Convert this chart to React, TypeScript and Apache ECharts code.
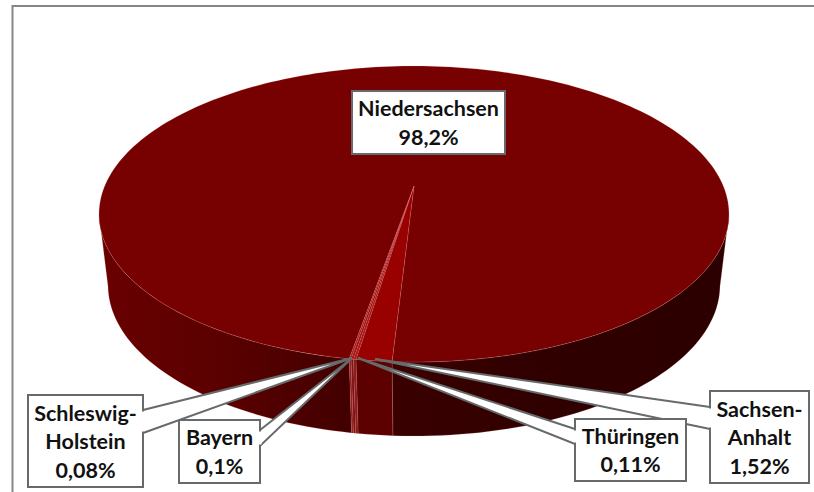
import React, { useEffect, useRef } from "react";
import * as echarts from "echarts";

// Share of each Bundesland, in drawing order (clockwise from the front of the pie).
const states = ["Sachsen-Anhalt", "Thüringen", "Bayern", "Schleswig-Holstein", "Niedersachsen"];
const shares = [1.52, 0.11, 0.1, 0.08, 98.2];
const labelLines = [["Sachsen-", "Anhalt"], ["Thüringen"], ["Bayern"], ["Schleswig-", "Holstein"], ["Niedersachsen"]];
const topColors = ["#990000", "#aa1a1a", "#a31515", "#ad2020", "#770000"];
const wallColors = ["#5c0000", "#8c1c1c", "#7f1414", "#942020", "#770000"];

// Callout boxes: [x, y, w, h], and the tail as the box-side anchors and the tip.
const boxes = [
  [710, 391, 99, 92],
  [575, 419, 111, 62],
  [179, 420, 81, 63],
  [28, 395, 115, 92],
  [352, 91, 153, 63],
];
const tails: (number[][] | null)[] = [
  [[710, 407], [375, 359], [710, 429]],
  [[575, 429], [358, 358], [575, 444]],
  [[260, 430], [352, 358], [260, 446]],
  [[143, 410], [352, 358], [143, 433]],
  null,
];

const START_ANGLE = 93.3;
const DEG = Math.PI / 180;

// Perspective discs: circle angle (clockwise, y down) to screen position.
const topDisc = { cx: 414, cy: 186, kx: 309.3, ky: 142.7, p: 0.1892 };
const baseDisc = { cx: 414, cy: 258, kx: 301, ky: 146, p: 0.18 };
const rim = (d: typeof topDisc, deg: number) => {
  const t = deg * DEG;
  const w = 1 - d.p * Math.sin(t);
  return [d.cx + (d.kx * Math.cos(t)) / w, d.cy + (d.ky * Math.sin(t)) / w];
};
const arc = (d: typeof topDisc, a: number, b: number) => {
  const n = Math.max(2, Math.ceil(Math.abs(b - a) / 1.5));
  const pts: number[][] = [];
  for (let i = 0; i <= n; i++) pts.push(rim(d, a + ((b - a) * i) / n));
  return pts;
};

const total = shares.reduce((s, v) => s + v, 0);
const spans = (() => {
  let a = START_ANGLE;
  return shares.map((v) => {
    const from = a;
    a += (v / total) * 360;
    return [from, a];
  });
})();

// The wall is visible only between the two silhouette angles of the front side.
const VISIBLE_FROM = 10.9;
const VISIBLE_TO = 169.1;
const visibleParts = (from: number, to: number) => {
  const parts: number[][] = [];
  for (const shift of [0, 360]) {
    const a = Math.max(from, VISIBLE_FROM + shift);
    const b = Math.min(to, VISIBLE_TO + shift);
    if (b > a) parts.push([a, b]);
  }
  return parts;
};

const hGrad = (stops: [number, string][], x0 = 99, x1 = 729) => ({
  type: "linear" as const,
  x: x0,
  y: 0,
  x2: x1,
  y2: 0,
  global: true,
  colorStops: stops.map(([offset, color]) => ({ offset, color })),
});

const wallFill = (i: number, part: number[]) => {
  if (i === 4) {
    return part[0] < 200
      ? hGrad([[0, "#6a0000"], [0.2, "#5a0000"], [0.4, "#420000"]])
      : hGrad([[0.47, "#3a0000"], [0.7, "#300000"], [1, "#2c0000"]]);
  }
  return wallColors[i];
};

// Large slices carry a pale hairline; the thinnest slices stay close to their fill.
const edgeOf = (i: number) => (i === 0 || i === 4 ? "rgba(255,170,170,0.22)" : "rgba(255,150,150,0.08)");

const renderSlices = (_: unknown, api: any) => {
  const i = api.value(0);
  const [from, to] = spans[i];
  const apex = [topDisc.cx, topDisc.cy];
  const children: any[] = [];
  for (const part of visibleParts(from, to)) {
    const pts = [...arc(topDisc, part[0], part[1]), ...arc(baseDisc, part[1], part[0])];
    children.push({
      type: "polygon",
      z2: 1 + (i === 4 ? 0 : 1),
      shape: { points: pts },
      style: { fill: wallFill(i, part), stroke: edgeOf(i), lineWidth: 0.8 },
    });
  }
  children.push({
    type: "polygon",
    z2: i === 4 ? 3 : 4,
    shape: { points: [apex, ...arc(topDisc, from, to)] },
    style: { fill: topColors[i], stroke: edgeOf(i), lineWidth: 0.8 },
  });
  return { type: "group", children };
};

const percentText = (v: number) => String(v).replace(".", ",") + "%";

const renderCallout = (_: unknown, api: any) => {
  const i = api.value(0);
  const [x, y, w, h] = boxes[i];
  const lines = [...labelLines[i], percentText(shares[i])];
  const edge = { stroke: "#666a6a", lineWidth: 2, lineJoin: "miter" };
  const children: any[] = [];
  const tail = tails[i];
  if (tail) {
    children.push({
      type: "polygon",
      shape: { points: tail },
      style: { fill: "#ffffff", ...edge },
    });
  }
  children.push({
    type: "rect",
    shape: { x, y, width: w, height: h },
    style: { fill: "#ffffff", ...edge },
  });
  if (tail) {
    // Hides the box edge where the tail joins it.
    const xs = tail[0][0];
    children.push({
      type: "rect",
      shape: { x: xs - 1.5, y: tail[0][1] + 1.5, width: 3, height: tail[2][1] - tail[0][1] - 3 },
      style: { fill: "#ffffff" },
    });
  }
  const lineH = 28.5;
  lines.forEach((s, n) => {
    children.push({
      type: "text",
      style: {
        text: s,
        x: x + w / 2,
        y: y + h / 2 + (n - (lines.length - 1) / 2) * lineH,
        align: "center",
        verticalAlign: "middle",
        fill: "#111111",
        font: "bold 21.5px Lato",
      },
    });
  });
  return { type: "group", children };
};

export default function App() {
  const ref = useRef<HTMLDivElement>(null);
  useEffect(() => {
    const chart = echarts.init(ref.current!, undefined, { renderer: "svg" });
    chart.setOption({
      animation: false,
      backgroundColor: "#ffffff",
      graphic: [
        {
          type: "polyline",
          z: 0,
          shape: { points: [[12.5, 492], [12.5, 6], [814, 6]] },
          style: { fill: "none", stroke: "#868686", lineWidth: 2 },
        },
      ],
      series: [
        {
          type: "custom",
          coordinateSystem: "none",
          z: 2,
          silent: true,
          data: states.map((_, i) => [i]),
          renderItem: renderSlices,
        },
        {
          type: "custom",
          coordinateSystem: "none",
          z: 3,
          silent: true,
          data: states.map((_, i) => [i]),
          renderItem: renderCallout,
        },
      ],
    });
    return () => chart.dispose();
  }, []);
  return <div ref={ref} style={{ position: "fixed", left: 0, top: 0, width: 814, height: 492 }} />;
}
